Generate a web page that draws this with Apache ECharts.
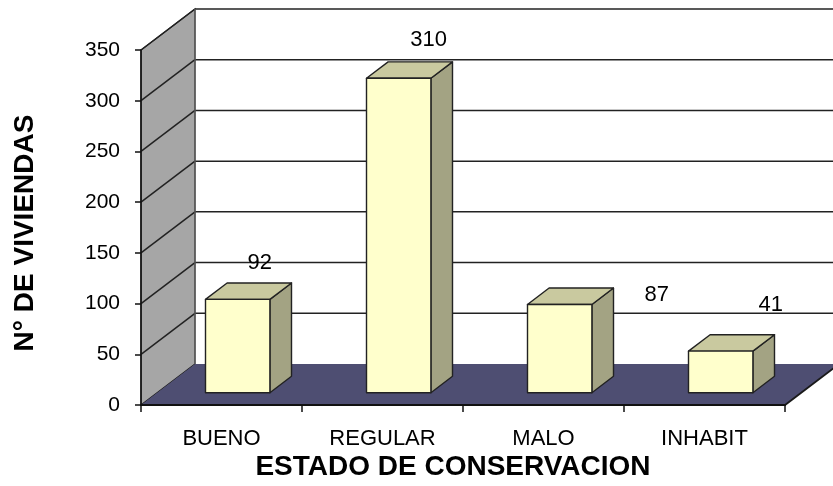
<!DOCTYPE html>
<html>
<head>
<meta charset="utf-8">
<script src="https://cdn.jsdelivr.net/npm/echarts@6/dist/echarts.min.js"></script>
<style>
  html, body { margin: 0; padding: 0; background: #fff; }
  #chart { width: 833px; height: 486px; }
</style>
</head>
<body>
<div id="chart"></div>
<script>
// Housing condition counts
const categories = ['BUENO', 'REGULAR', 'MALO', 'INHABIT'];
const viviendas = [92, 310, 87, 41];
const yTicks = [0, 50, 100, 150, 200, 250, 300, 350];

// 3D look: depth offset of the back wall, bar depth slot and label nudges
const DEPTH_X = 54, DEPTH_Y = -41;
const BAR_FRONT = 0.3, BAR_DEPTH = 0.4, BAR_WIDTH = 0.4;
const labelNudge = [[22, -36], [30, -38], [97, -10], [50, -46]];

const FONT = 'Liberation Sans, Arial, sans-serif';
const COLORS = {
  sideWall: '#a6a6a6',
  backWall: '#ffffff',
  floor: '#4e4e72',
  edge: '#1a1a1a',
  grid: '#222222',
  barFront: '#ffffcc',
  barTop: '#c9c99f',
  barSide: '#a3a383'
};

const chart = echarts.init(document.getElementById('chart'), null, { renderer: 'canvas' });

// Walls, floor and gridlines of the 3D box
function renderFrame(params, api) {
  const cs = params.coordSys;
  const L = cs.x, R = cs.x + cs.width, T = cs.y, B = cs.y + cs.height;
  const dx = DEPTH_X, dy = DEPTH_Y;
  const children = [];
  children.push({
    type: 'polygon',
    shape: { points: [[L + dx, T + dy], [R + dx + 20, T + dy], [R + dx + 20, B + dy], [L + dx, B + dy]] },
    style: { fill: COLORS.backWall, stroke: null }
  });
  children.push({
    type: 'polygon',
    shape: { points: [[L, B], [L, T], [L + dx, T + dy], [L + dx, B + dy]] },
    style: { fill: COLORS.sideWall, stroke: COLORS.edge, lineWidth: 1.2 }
  });
  yTicks.forEach(function (v) {
    const y = api.coord([0, v])[1];
    if (v > 0) {
      children.push({
        type: 'line',
        shape: { x1: L + dx, y1: y + dy, x2: R + dx + 20, y2: y + dy },
        style: { stroke: COLORS.grid, lineWidth: 1.5 }
      });
      children.push({
        type: 'line',
        shape: { x1: L, y1: y, x2: L + dx, y2: y + dy },
        style: { stroke: COLORS.grid, lineWidth: 1.5 }
      });
    }
  });
  children.push({
    type: 'line',
    shape: { x1: L + dx, y1: T + dy, x2: L + dx, y2: B + dy },
    style: { stroke: '#666', lineWidth: 1.2 }
  });
  children.push({
    type: 'polygon',
    shape: { points: [[L, B], [R, B], [R + dx, B + dy], [L + dx, B + dy]] },
    style: { fill: COLORS.floor, stroke: null }
  });
  children.push({
    type: 'polyline',
    shape: { points: [[L, B], [R, B], [R + dx, B + dy]] },
    style: { stroke: COLORS.edge, lineWidth: 1.8, fill: null }
  });
  return { type: 'group', children: children };
}

// One 3D box per category, sized from its value
function renderBar(params, api) {
  const idx = api.value(0);
  const val = api.value(1);
  const base = api.coord([idx, 0]);
  const top = api.coord([idx, val]);
  const band = api.size([1, 0])[0];
  const w = band * BAR_WIDTH;
  const ox = DEPTH_X * BAR_FRONT, oy = DEPTH_Y * BAR_FRONT;
  const bx = DEPTH_X * BAR_DEPTH, by = DEPTH_Y * BAR_DEPTH;
  const x0 = base[0] - w / 2 + ox, x1 = base[0] + w / 2 + ox;
  const yb = base[1] + oy, yt = top[1] + oy;
  const stroke = { stroke: '#222', lineWidth: 1.4, lineJoin: 'round' };
  const nudge = labelNudge[params.dataIndex];
  return {
    type: 'group',
    children: [
      {
        type: 'polygon',
        shape: { points: [[x1, yt], [x1 + bx, yt + by], [x1 + bx, yb + by], [x1, yb]] },
        style: Object.assign({ fill: COLORS.barSide }, stroke)
      },
      {
        type: 'polygon',
        shape: { points: [[x0, yt], [x1, yt], [x1 + bx, yt + by], [x0 + bx, yt + by]] },
        style: Object.assign({ fill: COLORS.barTop }, stroke)
      },
      {
        type: 'rect',
        shape: { x: x0, y: yt, width: x1 - x0, height: yb - yt },
        style: Object.assign({ fill: COLORS.barFront }, stroke)
      },
      {
        type: 'text',
        x: (x0 + x1) / 2 + nudge[0],
        y: yt + nudge[1],
        style: {
          text: String(val),
          fill: '#000',
          font: '22px ' + FONT,
          align: 'center',
          verticalAlign: 'middle'
        }
      }
    ]
  };
}

chart.setOption({
  animation: false,
  backgroundColor: '#ffffff',
  grid: { left: 141, right: 48, top: 50, bottom: 81, containLabel: false },
  xAxis: {
    type: 'category',
    data: categories,
    z: 10,
    axisLine: { show: true, lineStyle: { color: '#111', width: 1.8 } },
    axisTick: { show: true, length: 7, alignWithLabel: false, lineStyle: { color: '#111', width: 1.5 } },
    axisLabel: { color: '#000', fontFamily: FONT, fontSize: 22, margin: 23 },
    splitLine: { show: false }
  },
  yAxis: {
    type: 'value',
    min: 0,
    max: 350,
    interval: 50,
    z: 10,
    axisLine: { show: true, lineStyle: { color: '#111', width: 1.5 } },
    axisTick: { show: true, length: 6, lineStyle: { color: '#111', width: 1.5 } },
    axisLabel: { color: '#000', fontFamily: FONT, fontSize: 21, margin: 21 },
    splitLine: { show: false }
  },
  graphic: [
    {
      type: 'text',
      x: 25,
      y: 233,
      rotation: Math.PI / 2,
      style: {
        text: 'N° DE VIVIENDAS',
        font: 'bold 28px ' + FONT,
        fill: '#000',
        align: 'center',
        verticalAlign: 'middle'
      }
    },
    {
      type: 'text',
      x: 453,
      y: 467,
      style: {
        text: 'ESTADO DE CONSERVACION',
        font: 'bold 28px ' + FONT,
        fill: '#000',
        align: 'center',
        verticalAlign: 'middle'
      }
    }
  ],
  series: [
    {
      type: 'custom',
      z: 1,
      silent: true,
      clip: false,
      renderItem: renderFrame,
      data: [[0, 0]]
    },
    {
      type: 'custom',
      z: 3,
      clip: false,
      renderItem: renderBar,
      data: viviendas.map(function (v, i) { return [i, v]; })
    }
  ]
});
</script>
</body>
</html>
